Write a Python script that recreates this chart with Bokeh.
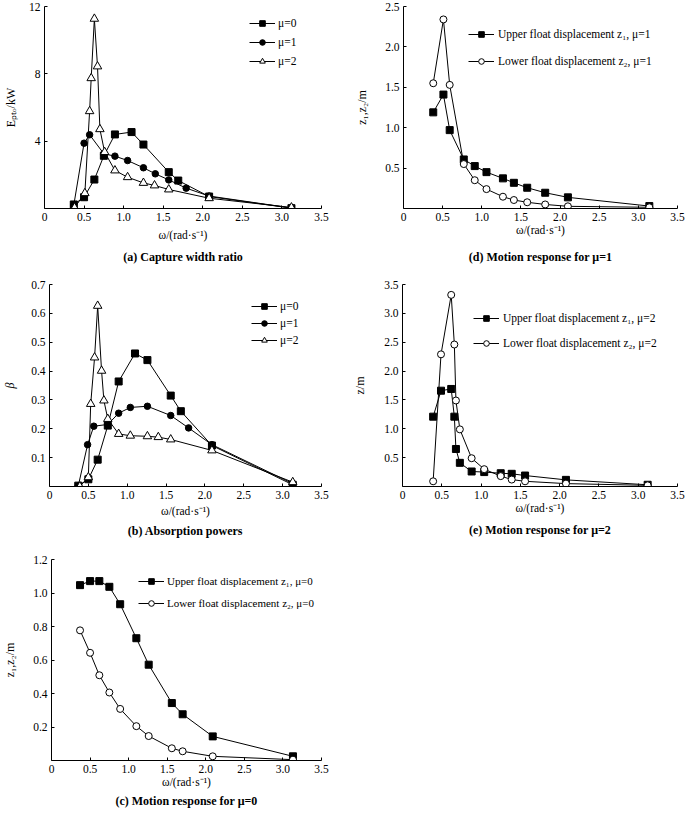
from bokeh.plotting import figure
from bokeh.models import (FixedTicker, CustomJSTickFormatter, Legend, LegendItem,
                          Range1d, Title)
from bokeh.layouts import column, row
from bokeh.embed import file_html
from bokeh.resources import INLINE

FONT = "Liberation Serif"

# ---------------- data ----------------
# (a) absorbed power E_pto (kW)
a_w_mu0 = [0.37, 0.50, 0.63, 0.75, 0.89, 1.10, 1.25, 1.57, 1.69, 2.08, 3.12]
a_E_mu0 = [0.24, 0.67, 1.72, 3.13, 4.40, 4.54, 3.80, 2.16, 1.66, 0.71, 0.02]
a_w_mu1 = [0.37, 0.50, 0.57, 0.75, 0.89, 1.05, 1.25, 1.40, 1.57, 1.79, 2.08, 3.12]
a_E_mu1 = [0.20, 3.88, 4.38, 3.25, 3.11, 2.85, 2.42, 2.06, 1.70, 1.21, 0.74, 0.03]
a_w_mu2 = [0.38, 0.51, 0.57, 0.59, 0.63, 0.67, 0.70, 0.76, 0.89, 1.05, 1.25, 1.39, 1.57, 2.08, 3.12]
a_E_mu2 = [0.05, 0.91, 5.78, 7.74, 11.27, 8.44, 4.71, 3.35, 2.26, 1.86, 1.52, 1.37, 1.13, 0.61, 0.06]

# (b) beta
b_w_mu0 = [0.37, 0.50, 0.62, 0.75, 0.89, 1.10, 1.26, 1.56, 1.69, 2.09, 3.13]
b_B_mu0 = [0.003, 0.025, 0.093, 0.211, 0.364, 0.461, 0.438, 0.315, 0.261, 0.142, 0.006]
b_w_mu1 = [0.37, 0.49, 0.57, 0.75, 0.89, 1.04, 1.26, 1.56, 1.79, 2.09, 3.13]
b_B_mu1 = [0.002, 0.145, 0.209, 0.215, 0.254, 0.274, 0.278, 0.246, 0.203, 0.145, 0.010]
b_w_mu2 = [0.39, 0.50, 0.53, 0.58, 0.62, 0.67, 0.70, 0.75, 0.89, 1.04, 1.26, 1.40, 1.56, 2.09, 3.13]
b_B_mu2 = [0.0, 0.032, 0.286, 0.447, 0.626, 0.401, 0.298, 0.234, 0.182, 0.176, 0.174, 0.171, 0.163, 0.125, 0.015]

# (c) motion response mu=0
c_w = [0.37, 0.50, 0.62, 0.75, 0.89, 1.10, 1.26, 1.56, 1.70, 2.09, 3.13]
c_z1 = [1.047, 1.071, 1.071, 1.037, 0.933, 0.730, 0.572, 0.343, 0.276, 0.144, 0.025]
c_z2 = [0.777, 0.643, 0.509, 0.406, 0.308, 0.205, 0.146, 0.073, 0.055, 0.025, 0.005]

# (d) motion response mu=1
d_w = [0.38, 0.51, 0.59, 0.77, 0.91, 1.06, 1.27, 1.41, 1.58, 1.81, 2.10, 3.14]
d_z1 = [1.19, 1.41, 0.97, 0.607, 0.525, 0.45, 0.373, 0.318, 0.257, 0.195, 0.138, 0.03]
d_z2 = [1.55, 2.34, 1.53, 0.55, 0.35, 0.24, 0.146, 0.105, 0.077, 0.05, 0.027, 0.015]

# (e) motion response mu=2
e_w = [0.39, 0.49, 0.62, 0.66, 0.68, 0.73, 0.88, 1.04, 1.25, 1.39, 1.56, 2.08, 3.12]
e_z1 = [1.21, 1.66, 1.69, 1.21, 0.65, 0.41, 0.26, 0.25, 0.23, 0.22, 0.19, 0.115, 0.03]
e_z2 = [0.09, 2.29, 3.32, 2.46, 1.49, 0.99, 0.49, 0.30, 0.18, 0.12, 0.09, 0.05, 0.02]

x_ticks = [0, 0.5, 1.0, 1.5, 2.0, 2.5, 3.0, 3.5]
a_yticks = [4, 8, 12]
b_yticks = [0.1, 0.2, 0.3, 0.4, 0.5, 0.6, 0.7]
c_yticks = [0.2, 0.4, 0.6, 0.8, 1.0, 1.2]
d_yticks = [0.5, 1.0, 1.5, 2.0, 2.5]
e_yticks = [0.5, 1.0, 1.5, 2.0, 2.5, 3.0, 3.5]

mu_labels = ["\u03bc=0", "\u03bc=1", "\u03bc=2"]
x_title = "\u03c9/(rad\u00b7s\u207b\u00b9)"


def make_panel(fig_left, fig_top, W, H, fl, ft, fr, fb, yr, yticks, ydec,
               ytitle, ytitle_style, ytitle_standoff, xtitle_standoff,
               caption, cap_offset, cap_standoff):
    p = figure(width=W, height=H, x_range=Range1d(0, 3.5), y_range=Range1d(*yr),
               output_backend="svg", toolbar_location=None,
               min_border_left=fl - fig_left, min_border_right=fig_left + W - fr,
               min_border_top=ft - fig_top, min_border_bottom=fig_top + H - fb)
    p.xgrid.visible = False
    p.ygrid.visible = False
    p.outline_line_color = None
    p.background_fill_color = "white"
    p.border_fill_color = "white"
    for ax in (p.xaxis[0], p.yaxis[0]):
        ax.axis_line_color = "black"
        ax.axis_line_width = 1
        ax.major_tick_in = 3
        ax.major_tick_out = 0
        ax.major_tick_line_color = "black"
        ax.minor_tick_line_color = None
        ax.major_label_text_font = FONT
        ax.major_label_text_font_size = "11.5px"
        ax.major_label_text_color = "black"
        ax.major_label_standoff = 4
        ax.axis_label_text_font = FONT
        ax.axis_label_text_color = "black"
    p.xaxis[0].ticker = FixedTicker(ticks=x_ticks)
    p.xaxis[0].formatter = CustomJSTickFormatter(
        code="return tick == 0 ? '0' : tick.toFixed(1);")
    p.xaxis[0].axis_label = x_title
    p.xaxis[0].axis_label_text_font_size = "11.5px"
    p.xaxis[0].axis_label_text_font_style = "normal"
    p.xaxis[0].axis_label_standoff = xtitle_standoff
    p.yaxis[0].ticker = FixedTicker(ticks=yticks)
    p.yaxis[0].formatter = CustomJSTickFormatter(code="return tick.toFixed(%d);" % ydec)
    p.yaxis[0].axis_label = ytitle
    p.yaxis[0].axis_label_text_font_size = "12px"
    p.yaxis[0].axis_label_text_font_style = ytitle_style
    p.yaxis[0].axis_label_standoff = ytitle_standoff
    p.add_layout(Title(text=caption, align="center", offset=cap_offset,
                       standoff=cap_standoff, text_font=FONT, text_font_size="12px",
                       text_font_style="bold", text_color="black"), "below")
    return p


def series(p, xs, ys, marker, filled, size):
    lr = p.line(xs, ys, line_color="black", line_width=1)
    sr = p.scatter(xs, ys, marker=marker, size=size, line_color="black", line_width=1,
                   fill_color="black" if filled else "white")
    return [lr, sr]


def add_legend(p, items, vx, vy, spacing, standoff, fsize="11.5px"):
    lg = Legend(items=[LegendItem(label=l, renderers=r) for l, r in items],
                location=(vx, vy), orientation="vertical", padding=0, margin=0,
                spacing=spacing, glyph_width=26, glyph_height=14, label_height=14,
                label_standoff=standoff, label_text_font=FONT,
                label_text_font_size=fsize, label_text_color="black",
                border_line_color=None, background_fill_alpha=0)
    p.add_layout(lg)


# ---------------- panel (a) ----------------
pa = make_panel(0, 0, 340, 274, 43, 6, 321, 208, (0, 12), a_yticks, 0,
                "E\u209a\u209c\u2092/kW", "normal", 8, 5,
                "(a) Capture width ratio", 2, 8)
ra0 = series(pa, a_w_mu0, a_E_mu0, "square", True, 7)
ra1 = series(pa, a_w_mu1, a_E_mu1, "circle", True, 6.5)
ra2 = series(pa, a_w_mu2, a_E_mu2, "triangle", False, 8.5)
add_legend(pa, [(mu_labels[0], ra0), (mu_labels[1], ra1), (mu_labels[2], ra2)], 205, 140, 5, 3)

# ---------------- panel (d) ----------------
pd_ = make_panel(340, 0, 345, 274, 403, 6, 677, 208, (0, 2.5), d_yticks, 1,
                 "z\u2081,z\u2082/m", "normal", 13, 0,
                 "(d) Motion response for \u03bc=1", -2, 19)
rd1 = series(pd_, d_w, d_z1, "square", True, 7)
rd2 = series(pd_, d_w, d_z2, "circle", False, 7)
add_legend(pd_, [("Upper float displacement z\u2081, \u03bc=1", rd1),
                 ("Lower float displacement z\u2082, \u03bc=1", rd2)], 65, 140, 13, 4)

# ---------------- panel (b) ----------------
pb = make_panel(0, 274, 340, 268, 47, 284, 321, 486, (0, 0.7), b_yticks, 1,
                "\u03b2", "italic", 11, 3,
                "(b) Absorption powers", -15, 4)
rb0 = series(pb, b_w_mu0, b_B_mu0, "square", True, 7)
rb1 = series(pb, b_w_mu1, b_B_mu1, "circle", True, 6.5)
rb2 = series(pb, b_w_mu2, b_B_mu2, "triangle", False, 8.5)
add_legend(pb, [(mu_labels[0], rb0), (mu_labels[1], rb1), (mu_labels[2], rb2)], 202, 139, 3, 3)

# ---------------- panel (e) ----------------
pe = make_panel(340, 274, 345, 268, 402, 283, 677, 486, (0, 3.5), e_yticks, 1,
                "z/m", "normal", 14, 0,
                "(e) Motion response for \u03bc=2", -1, 8)
re1 = series(pe, e_w, e_z1, "square", True, 7)
re2 = series(pe, e_w, e_z2, "circle", False, 7)
add_legend(pe, [("Upper float displacement z\u2081, \u03bc=2", re1),
                ("Lower float displacement z\u2082, \u03bc=2", re2)], 71, 136, 11, 4)

# ---------------- panel (c) ----------------
pc = make_panel(0, 542, 340, 269, 47, 559, 321, 760, (0, 1.2), c_yticks, 1,
                "z\u2081,z\u2082/m", "normal", 13, 0,
                "(c) Motion response for \u03bc=0", 8, 2)
rc1 = series(pc, c_w, c_z1, "square", True, 7)
rc2 = series(pc, c_w, c_z2, "circle", False, 7)
add_legend(pc, [("Upper float displacement z\u2081, \u03bc=0", rc1),
                ("Lower float displacement z\u2082, \u03bc=0", rc2)], 87, 150, 8, 3, "11px")

layout = column(row(pa, pd_), row(pb, pe), pc)

open("out.html", "w").write(file_html(layout, INLINE))
